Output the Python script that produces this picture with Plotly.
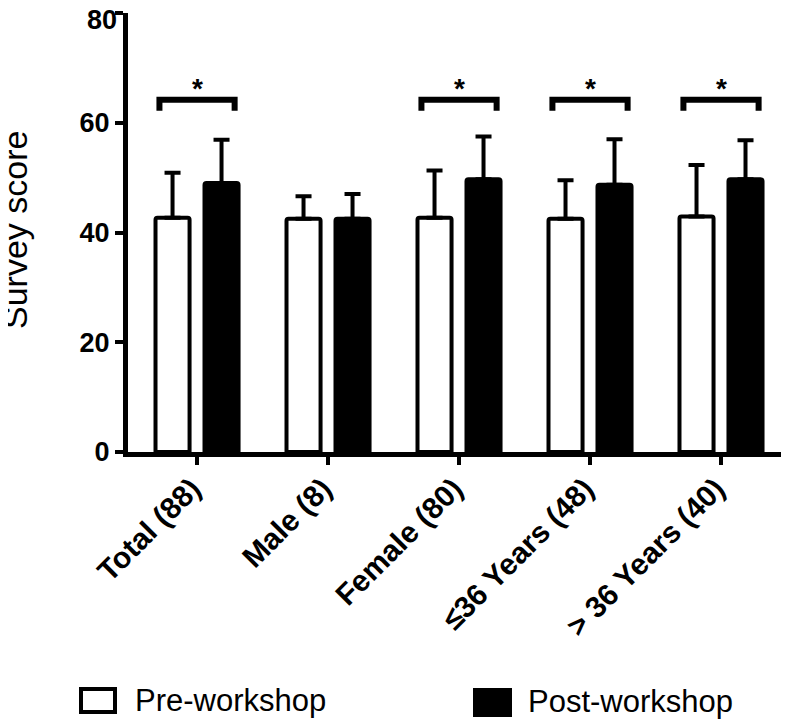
import plotly.graph_objects as go

# datos
categorias = ["Total (88)", "Male (8)", "Female (80)", "≤36 Years (48)", "> 36 Years (40)"]
pre_media = [42.7, 42.5, 42.7, 42.5, 42.9]
pre_sd = [8.2, 4.1, 8.6, 7.0, 9.4]
post_media = [49.0, 42.5, 49.7, 48.7, 49.7]
post_sd = [7.9, 4.5, 7.8, 8.3, 7.1]
significativo = [True, False, True, True, True]
y_ticks = [0, 20, 40, 60, 80]
y_ticktext = ["0", "20", "40", "60", "80"]
nivel_llave = 64.2
bajada_llave = 2.0
nivel_asterisco = 66.2

# la pagina deja 8 px de margen en el body, se descuenta aqui
OFF = 8
W, H = 789 - OFF, 721 - OFF
ML, MR, MT, MB = 128 - OFF, 0, 13 - OFF, 721 - 452
FUENTE = "Arial, Liberation Sans, sans-serif"
FUENTE_Y = dict(family=FUENTE, size=27, color="black", weight="bold")


def px_x(px):
    return (px - OFF - ML) / (W - ML - MR)


def px_y(py):
    return (H - MB - (py - OFF)) / (H - MT - MB)


idx = list(range(len(categorias)))

fig = go.Figure()

fig.add_trace(go.Bar(
    x=idx, y=pre_media, name="Pre-workshop",
    marker=dict(color="white", line=dict(color="black", width=4), cornerradius=2),
    error_y=dict(type="data", array=pre_sd, arrayminus=[0] * len(pre_sd), symmetric=False,
                 color="black", thickness=4, width=8),
))
fig.add_trace(go.Bar(
    x=idx, y=post_media, name="Post-workshop",
    marker=dict(color="black", line=dict(color="black", width=4), cornerradius=2),
    error_y=dict(type="data", array=post_sd, arrayminus=[0] * len(post_sd), symmetric=False,
                 color="black", thickness=4, width=8),
))

# llaves de significancia
for i, sig in zip(idx, significativo):
    if not sig:
        continue
    fig.add_trace(go.Scatter(
        x=[i - 0.287, i - 0.287, i + 0.287, i + 0.287],
        y=[nivel_llave - bajada_llave, nivel_llave, nivel_llave, nivel_llave - bajada_llave],
        mode="lines", line=dict(color="black", width=6), hoverinfo="skip", showlegend=False,
    ))
    fig.add_annotation(x=i, y=nivel_asterisco, text="*", showarrow=False,
                       font=dict(family=FUENTE, size=28, color="black", weight="bold"))

# la etiqueta de arriba se baja un poco para que no la corte el borde
fig.add_annotation(xref="paper", x=0, y=y_ticks[-1], text=y_ticktext[-1], showarrow=False,
                   xanchor="right", yanchor="middle", xshift=-9, yshift=-7, font=FUENTE_Y)

# leyenda dibujada a mano
fig.add_shape(type="rect", xref="paper", yref="paper",
              x0=px_x(81), x1=px_x(115), y0=px_y(712), y1=px_y(689),
              line=dict(color="black", width=4), fillcolor="white")
fig.add_shape(type="rect", xref="paper", yref="paper",
              x0=px_x(475), x1=px_x(510), y0=px_y(715), y1=px_y(690),
              line=dict(color="black", width=4), fillcolor="black")
fig.add_annotation(xref="paper", yref="paper", x=px_x(133), y=px_y(700), text="Pre-workshop",
                   showarrow=False, xanchor="left", yanchor="middle",
                   font=dict(family=FUENTE, size=31, color="black"))
fig.add_annotation(xref="paper", yref="paper", x=px_x(526), y=px_y(701), text="Post-workshop",
                   showarrow=False, xanchor="left", yanchor="middle",
                   font=dict(family=FUENTE, size=31, color="black"))

# titulo del eje y
fig.add_annotation(xref="paper", yref="paper", x=px_x(15), y=px_y(230), text="Survey score",
                   showarrow=False, textangle=-90, xanchor="center", yanchor="middle",
                   font=dict(family=FUENTE, size=34, color="black"))

fig.update_layout(
    width=W, height=H,
    margin=dict(l=ML, r=MR, t=MT, b=MB),
    paper_bgcolor="white", plot_bgcolor="white",
    barmode="group", bargap=0.252, bargroupgap=0.305,
    showlegend=False,
    font=dict(family=FUENTE, color="black"),
)
fig.update_xaxes(
    range=[-0.527, 4.519], tickvals=idx, ticktext=categorias, tickangle=-45,
    showline=True, linecolor="black", linewidth=5, showgrid=False, zeroline=False,
    ticks="outside", ticklen=8, tickwidth=4, tickcolor="black", automargin=False,
    ticklabelshift=-5, ticklabelstandoff=-6,
    tickfont=dict(family=FUENTE, size=30, color="black", weight="bold"),
)
fig.update_yaxes(
    range=[0, 80], tickvals=y_ticks, ticktext=y_ticktext[:-1] + [""],
    showline=True, linecolor="black", linewidth=5, showgrid=False, zeroline=False,
    ticks="outside", ticklen=8, tickwidth=4, tickcolor="black", automargin=False,
    tickfont=FUENTE_Y,
)

fig.write_html("out.html")
